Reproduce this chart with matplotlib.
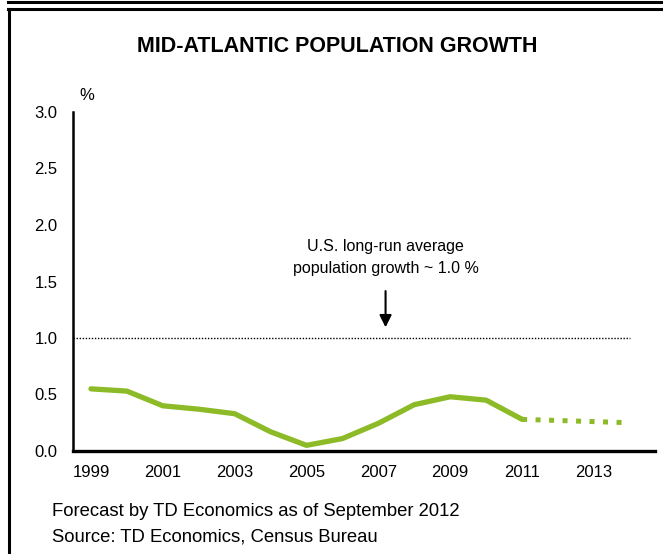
import matplotlib
matplotlib.use("Agg")
import matplotlib.pyplot as plt
from matplotlib.lines import Line2D

plt.rcParams['font.family'] = ['Liberation Sans', 'DejaVu Sans']

# annual population growth, % (actual through 2011, forecast after)
years_actual = [1999, 2000, 2001, 2002, 2003, 2004, 2005, 2006, 2007, 2008, 2009, 2010, 2011]
growth_actual = [0.55, 0.53, 0.40, 0.37, 0.33, 0.17, 0.05, 0.11, 0.245, 0.41, 0.48, 0.45, 0.28]
years_forecast = [2011, 2012, 2013, 2014]
growth_forecast = [0.28, 0.27, 0.26, 0.25]
us_long_run = 1.0
tick_years = [1999, 2001, 2003, 2005, 2007, 2009, 2011, 2013]
y_ticks = [0.0, 0.5, 1.0, 1.5, 2.0, 2.5, 3.0]

green = '#8cbb27'
W, H = 663, 554
fig = plt.figure(figsize=(W / 100, H / 100), dpi=100)

# frame lines around the panel
fig.add_artist(Line2D([8 / W, 1], [1 - 2 / H, 1 - 2 / H], color='black', lw=2.2))
fig.add_artist(Line2D([8 / W, 1], [1 - 9 / H, 1 - 9 / H], color='black', lw=2.2))
fig.add_artist(Line2D([9 / W, 9 / W], [0, 1 - 9 / H], color='black', lw=2.2))

ax = fig.add_axes([73 / W, (H - 451) / H, (655 - 73) / W, (451 - 112) / H])
ax.plot(years_actual, growth_actual, color=green, lw=3.8, solid_capstyle='round')
ax.plot(years_forecast, growth_forecast, color=green, lw=3.6,
        linestyle=(0, (1.0, 1.7)), dash_capstyle='butt')
ax.hlines(us_long_run, 1998.5, 2014.0, color='black', lw=1.0, linestyle=(0, (1, 1.2)))

ax.annotate('', xy=(2007.2, 1.07), xytext=(2007.2, 1.44),
            arrowprops=dict(arrowstyle='-|>', color='black', lw=1.5, mutation_scale=18))
ax.text(2007.2, 1.71, 'U.S. long-run average\npopulation growth ~ 1.0 %', ha='center',
        va='center', fontsize=11.5, linespacing=1.6)

ax.set_xlim(1998.5, 2014.7)
ax.set_ylim(0, 3.0)
ax.set_xticks(tick_years)
ax.set_yticks(y_ticks)
ax.set_yticklabels([f'{v:.1f}' for v in y_ticks])
ax.tick_params(length=0, labelsize=12)
ax.tick_params(axis='x', pad=10)
ax.tick_params(axis='y', pad=11)
for s in ['top', 'right']:
    ax.spines[s].set_visible(False)
ax.spines['left'].set_linewidth(1.8)
ax.spines['bottom'].set_linewidth(2.4)

fig.text(87 / W, 1 - 95 / H, '%', fontsize=12, ha='center', va='center')
fig.text(337 / W, 1 - 46 / H, 'MID-ATLANTIC POPULATION GROWTH', fontsize=15.5,
         fontweight='bold', ha='center', va='center')
fig.text(52 / W, 1 - 512 / H, 'Forecast by TD Economics as of September 2012',
         fontsize=13.3, va='center')
fig.text(52 / W, 1 - 537 / H, 'Source: TD Economics, Census Bureau',
         fontsize=13.3, va='center')

fig.savefig('out.png', dpi=100)
